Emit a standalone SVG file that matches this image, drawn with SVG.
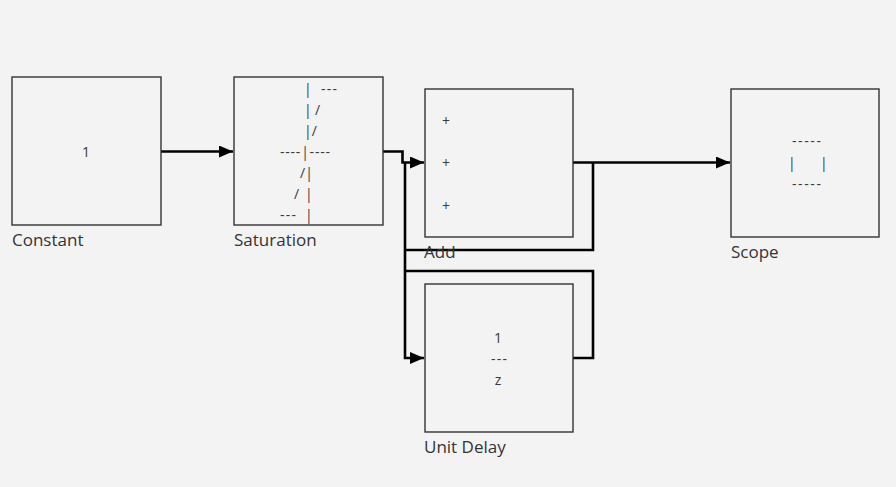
<svg xmlns="http://www.w3.org/2000/svg" width="896" height="487" viewBox="0 0 896 487">
<style>
.blk{fill:#f3f3f3;stroke:#333;stroke-width:1.4}
.lbl{font-family:"Open Sans","Liberation Sans",sans-serif;font-size:17px;fill:#333}
.in{font-family:"Open Sans","Liberation Sans",sans-serif;font-size:14px;fill:#3a3a3a}
.w{fill:none;stroke:#000;stroke-width:2.6}
</style>
<defs>
<marker id="ah" markerUnits="userSpaceOnUse" markerWidth="14" markerHeight="12" refX="14" refY="6" orient="auto">
<path d="M0,0 L14,6 L0,12 Z" fill="#000"/>
</marker>
</defs>
<rect width="896" height="487" fill="#f3f3f3"/>
<g id="connectors">
<path class="w" d="M161,151.5 H233" marker-end="url(#ah)"/>
<path class="w" d="M383,151.5 H402.5 V162.5 H424" marker-end="url(#ah)"/>
<path class="w" d="M573,162.5 H730" marker-end="url(#ah)"/>
<path class="w" d="M593,162.5 V250 H405 M405,162.5 V358 H424" marker-end="url(#ah)"/>
<path class="w" d="M573,358 H593 V271 H405"/>
</g>
<g id="constant">
<rect class="blk" x="12" y="77" width="149" height="148"/>
<text class="in" x="86" y="157" text-anchor="middle">1</text>
<text class="lbl" x="12" y="246">Constant</text>
</g>
<g id="saturation">
<rect class="blk" x="234" y="77" width="149" height="148"/>
<text class="in" y="94"><tspan x="304">|</tspan><tspan x="321" textLength="16" lengthAdjust="spacing">---</tspan></text>
<text class="in" y="115"><tspan x="304">|</tspan><tspan x="315">/</tspan></text>
<text class="in" x="304" y="136">|/</text>
<text class="in" x="280" y="157" textLength="50" lengthAdjust="spacing">----|----</text>
<text class="in" x="300" y="178">/|</text>
<text class="in" y="199"><tspan x="294">/</tspan><tspan x="305">|</tspan></text>
<text class="in" y="220"><tspan x="280" textLength="16" lengthAdjust="spacing">---</tspan><tspan x="305">|</tspan></text>
<text class="lbl" x="234" y="246">Saturation</text>
</g>
<g id="add">
<rect class="blk" x="425" y="89" width="148" height="148"/>
<text class="in" x="446" y="126" text-anchor="middle">+</text>
<text class="in" x="446" y="168" text-anchor="middle">+</text>
<text class="in" x="446" y="211" text-anchor="middle">+</text>
<text class="lbl" x="424" y="258">Add</text>
</g>
<g id="unitdelay">
<rect class="blk" x="425" y="284" width="148" height="148"/>
<text class="in" x="498" y="343" text-anchor="middle">1</text>
<text class="in" x="491" y="364" textLength="16" lengthAdjust="spacing">---</text>
<text class="in" x="498" y="385" text-anchor="middle">z</text>
<text class="lbl" x="424" y="453">Unit Delay</text>
</g>
<g id="scope">
<rect class="blk" x="731" y="89" width="148" height="148"/>
<text class="in" x="792" y="146" textLength="29" lengthAdjust="spacing">-----</text>
<text class="in" y="168"><tspan x="788">|</tspan><tspan x="820">|</tspan></text>
<text class="in" x="792" y="189" textLength="29" lengthAdjust="spacing">-----</text>
<text class="lbl" x="731" y="258">Scope</text>
</g>
</svg>
